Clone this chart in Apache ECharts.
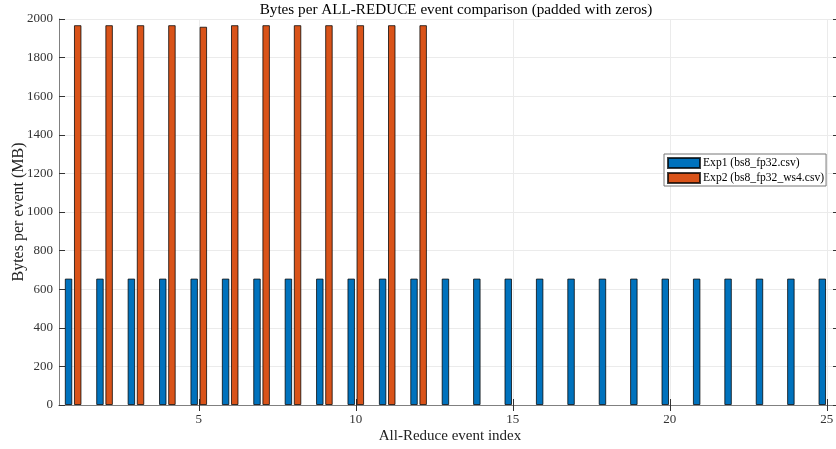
<!DOCTYPE html>
<html>
<head>
<meta charset="utf-8">
<script src="https://cdn.jsdelivr.net/npm/echarts@6/dist/echarts.min.js"></script>
<style>
  html, body { margin: 0; padding: 0; background: #ffffff; }
  #chart { width: 836px; height: 449px; }
</style>
</head>
<body>
<div id="chart"></div>
<script>
// All-reduce event indices (1-based)
const eventIndex = [1, 2, 3, 4, 5, 6, 7, 8, 9, 10, 11, 12, 13, 14, 15, 16, 17, 18, 19, 20, 21, 22, 23, 24, 25];
// Bytes per event (MB) for each run; Exp2 had fewer events and is padded with zeros
const exp1Bytes = [655, 655, 655, 655, 655, 655, 655, 655, 655, 655, 655, 655, 655,
                   655, 655, 655, 655, 655, 655, 655, 655, 655, 655, 655, 655];
const exp2Bytes = [1968, 1968, 1968, 1968, 1960, 1968, 1968, 1968, 1968, 1968, 1968, 1968, 0,
                   0, 0, 0, 0, 0, 0, 0, 0, 0, 0, 0, 0];
const seriesNames = ['Exp1 (bs8_fp32.csv)', 'Exp2 (bs8_fp32_ws4.csv)'];
const xTickValues = [5, 10, 15, 20, 25];

const FONT = '"Liberation Serif", "DejaVu Serif", serif';
const AXIS_GREY = '#808080';
const GRID_GREY = '#ebebeb';

const chart = echarts.init(document.getElementById('chart'), null, { renderer: 'canvas' });

const xBase = {
  type: 'value',
  min: 0.55,
  max: 25.45,
  axisLine: { show: true, lineStyle: { color: AXIS_GREY, width: 1 } },
  axisTick: { show: true, inside: true, length: 6, customValues: xTickValues,
              lineStyle: { color: '#333333' } },
};

// zero-height padding bars get no outline
function barPoints(values) {
  return eventIndex.map((x, i) => values[i] === 0
    ? { value: [x, values[i]], itemStyle: { borderWidth: 0 } }
    : [x, values[i]]);
}

const option = {
  animation: false,
  backgroundColor: '#ffffff',
  textStyle: { fontFamily: FONT },
  title: {
    text: 'Bytes per ALL-REDUCE event comparison (padded with zeros)',
    left: 451,
    textAlign: 'center',
    top: -2,
    textStyle: { fontFamily: FONT, fontSize: 15.2, fontWeight: 'normal', color: '#000000' }
  },
  grid: { left: 59, right: -5, top: 19, bottom: 44, containLabel: false, outerBoundsMode: 'none' },
  legend: {
    orient: 'vertical',
    left: 664,
    top: 154,
    padding: [3, 2, 2, 3],
    itemGap: 3,
    itemWidth: 32,
    itemHeight: 10,
    borderColor: '#777777',
    borderWidth: 1,
    backgroundColor: '#ffffff',
    icon: 'rect',
    textStyle: { fontFamily: FONT, fontSize: 11.6, color: '#000000', padding: [0, 0, 0, -2] },
    data: seriesNames
  },
  xAxis: [
    Object.assign({}, xBase, {
      position: 'bottom',
      name: 'All-Reduce event index',
      nameLocation: 'middle',
      nameGap: 24,
      nameMoveOverlap: false,
      nameTextStyle: { fontFamily: FONT, fontSize: 15, color: '#222222' },
      axisLabel: { customValues: xTickValues, fontFamily: FONT, fontSize: 13,
                   color: '#333333', margin: 8 },
      splitLine: { show: true, lineStyle: { color: GRID_GREY, width: 1 } }
    }),
    Object.assign({}, xBase, {
      position: 'top',
      axisLabel: { show: false },
      splitLine: { show: false }
    })
  ],
  yAxis: [
    {
      type: 'value',
      min: 0,
      max: 2000,
      interval: 200,
      position: 'left',
      name: 'Bytes per event (MB)',
      nameLocation: 'middle',
      nameGap: 32,
      nameMoveOverlap: false,
      nameTextStyle: { fontFamily: FONT, fontSize: 16, color: '#222222' },
      axisLine: { show: true, lineStyle: { color: AXIS_GREY, width: 1 } },
      axisTick: { show: true, inside: true, length: 6, lineStyle: { color: '#333333' } },
      axisLabel: { fontFamily: FONT, fontSize: 13, color: '#333333', margin: 6,
                   formatter: (v) => String(v) },
      splitLine: { show: true, lineStyle: { color: GRID_GREY, width: 1 } }
    },
    {
      type: 'value',
      min: 0,
      max: 2000,
      interval: 200,
      position: 'right',
      axisLine: { show: true, lineStyle: { color: AXIS_GREY, width: 1 } },
      axisTick: { show: true, inside: true, length: 8, lineStyle: { color: '#333333' } },
      axisLabel: { show: false },
      splitLine: { show: false }
    }
  ],
  series: [
    {
      name: seriesNames[0],
      type: 'bar',
      xAxisIndex: 0,
      yAxisIndex: 0,
      barWidth: 7.5,
      barGap: '22%',
      itemStyle: { color: '#0072BD', borderColor: 'rgba(0,0,0,0.75)', borderWidth: 1 },
      data: barPoints(exp1Bytes)
    },
    {
      name: seriesNames[1],
      type: 'bar',
      xAxisIndex: 0,
      yAxisIndex: 0,
      barWidth: 7.5,
      barGap: '22%',
      itemStyle: { color: '#D95319', borderColor: 'rgba(0,0,0,0.75)', borderWidth: 1 },
      data: barPoints(exp2Bytes)
    }
  ]
};

chart.setOption(option);
</script>
</body>
</html>
